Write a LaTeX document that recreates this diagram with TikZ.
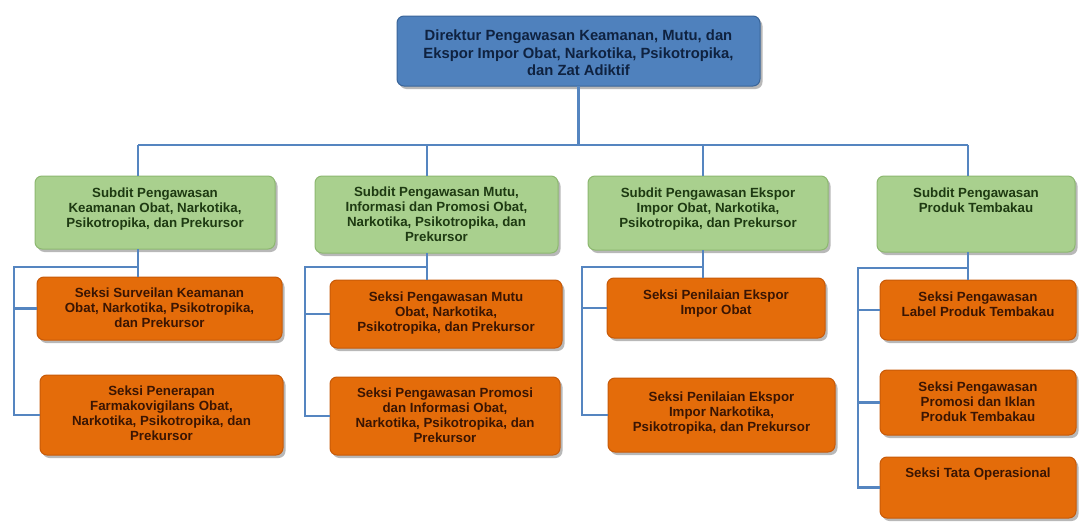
\documentclass[tikz,border=0pt]{standalone}
\usepackage{fontspec}
\setmainfont{Liberation Sans}
\usetikzlibrary{shadows}
\definecolor{topfill}{HTML}{4F81BD}
\definecolor{topdraw}{HTML}{3A6599}
\definecolor{toptext}{HTML}{0F2240}
\definecolor{grnfill}{HTML}{A9D08E}
\definecolor{grndraw}{HTML}{8DB870}
\definecolor{grntext}{HTML}{1E3A12}
\definecolor{orgfill}{HTML}{E46C0A}
\definecolor{orgdraw}{HTML}{C85A08}
\definecolor{orgtext}{HTML}{3A1503}
\definecolor{conn}{HTML}{5585C0}
\tikzset{
  boxbase/.style={rounded corners=7pt, line width=1pt, inner sep=0pt, outer sep=0pt,
    drop shadow={shadow xshift=2.5pt, shadow yshift=-3pt, fill=black!55, opacity=.5}},
  topbox/.style={boxbase, fill=topfill, draw=topdraw},
  gbox/.style={boxbase, fill=grnfill, draw=grndraw},
  obox/.style={boxbase, fill=orgfill, draw=orgdraw},
  toptxt/.style={align=center, inner sep=0pt, text=toptext,
    font=\bfseries\fontsize{14.8}{17.5}\selectfont},
  gtxt/.style={anchor=north, align=center, inner sep=0pt, text=grntext,
    font=\bfseries\fontsize{13.3}{15}\selectfont},
  otxt/.style={anchor=north, align=center, inner sep=0pt, text=orgtext,
    font=\bfseries\fontsize{13.3}{15}\selectfont},
  link/.style={draw=conn, line width=2.8pt}
}
\begin{document}
\begin{tikzpicture}[x=1pt,y=-1pt]
\useasboundingbox (0,0) rectangle (1080,522);
\fill[white] (0,0) rectangle (1080,522);

% top
\node[topbox, minimum width=363pt, minimum height=70pt] (top) at (578.5,51) {};
\node[toptxt] (tt) at ([yshift=-2pt]top.center)
  {Direktur Pengawasan Keamanan, Mutu, dan\\Ekspor Impor Obat, Narkotika, Psikotropika,\\dan Zat Adiktif};

% subdit boxes
\node[gbox, minimum width=240pt, minimum height=73pt] (s1) at (155,212.5) {};
\node[gbox, minimum width=243pt, minimum height=77pt] (s2) at (436.5,214.5) {};
\node[gbox, minimum width=240pt, minimum height=74pt] (s3) at (708,213) {};
\node[gbox, minimum width=198pt, minimum height=76pt] (s4) at (976,214) {};

% seksi boxes
\node[obox, minimum width=245pt, minimum height=63pt] (o1a) at (159.5,308.5) {};
\node[obox, minimum width=243pt, minimum height=80pt] (o1b) at (161.5,415) {};
\node[obox, minimum width=232pt, minimum height=68pt] (o2a) at (446,314) {};
\node[obox, minimum width=230pt, minimum height=78pt] (o2b) at (445,416) {};
\node[obox, minimum width=218pt, minimum height=60pt] (o3a) at (716,308) {};
\node[obox, minimum width=227pt, minimum height=74pt] (o3b) at (721.5,415) {};
\node[obox, minimum width=196pt, minimum height=60pt] (o4a) at (978,310) {};
\node[obox, minimum width=196pt, minimum height=65pt] (o4b) at (978,402.5) {};
\node[obox, minimum width=196pt, minimum height=61pt] (o4c) at (978,487.5) {};

% texts
\node[gtxt] (t1) at ([yshift=-12pt]s1.north) {Subdit Pengawasan\\Keamanan Obat, Narkotika,\\Psikotropika, dan Prekursor};
\node[gtxt] (t2) at ([yshift=-11pt]s2.north) {Subdit Pengawasan Mutu,\\Informasi dan Promosi Obat,\\Narkotika, Psikotropika, dan\\Prekursor};
\node[gtxt] (t3) at ([yshift=-12pt]s3.north) {Subdit Pengawasan Ekspor\\Impor Obat, Narkotika,\\Psikotropika, dan Prekursor};
\node[gtxt] (t4) at ([yshift=-12pt]s4.north) {Subdit Pengawasan\\Produk Tembakau};

\node[otxt] (u1a) at ([yshift=-11pt]o1a.north) {Seksi Surveilan Keamanan\\Obat, Narkotika, Psikotropika,\\dan Prekursor};
\node[otxt] (u1b) at ([yshift=-11pt]o1b.north) {Seksi Penerapan\\Farmakovigilans Obat,\\Narkotika, Psikotropika, dan\\Prekursor};
\node[otxt] (u2a) at ([yshift=-12pt]o2a.north) {Seksi Pengawasan Mutu\\Obat, Narkotika,\\Psikotropika, dan Prekursor};
\node[otxt] (u2b) at ([yshift=-11pt]o2b.north) {Seksi Pengawasan Promosi\\dan Informasi Obat,\\Narkotika, Psikotropika, dan\\Prekursor};
\node[otxt] (u3a) at ([yshift=-12pt]o3a.north) {Seksi Penilaian Ekspor\\Impor Obat};
\node[otxt] (u3b) at ([yshift=-14pt]o3b.north) {Seksi Penilaian Ekspor\\Impor Narkotika,\\Psikotropika, dan Prekursor};
\node[otxt] (u4a) at ([yshift=-12pt]o4a.north) {Seksi Pengawasan\\Label Produk Tembakau};
\node[otxt] (u4b) at ([yshift=-12pt]o4b.north) {Seksi Pengawasan\\Promosi dan Iklan\\Produk Tembakau};
\node[otxt] (u4c) at ([yshift=-11pt]o4c.north) {Seksi Tata Operasional};

% main bus
\coordinate (c1) at (138,145);
\coordinate (c2) at (427,145);
\coordinate (c3) at (703,145);
\coordinate (c4) at (968,145);
\draw[link] (top.south) -- (top.south |- c1);
\draw[link] (c1) -- (c4);
\draw[link] (c1) -- (c1 |- s1.north);
\draw[link] (c2) -- (c2 |- s2.north);
\draw[link] (c3) -- (c3 |- s3.north);
\draw[link] (c4) -- (c4 |- s4.north);

% group buses
\coordinate (L1) at (14,267);
\coordinate (L2) at (305,267);
\coordinate (L3) at (582,267);
\coordinate (L4) at (858,268);

\draw[link] (s1.south -| c1) -- (o1a.north -| c1);
\draw[link] (L1 -| c1) -- (L1) |- (o1b.west);
\draw[link] (L1 |- o1a.west) -- (o1a.west);

\draw[link] (s2.south -| c2) -- (o2a.north -| c2);
\draw[link] (L2 -| c2) -- (L2) |- (o2b.west);
\draw[link] (L2 |- o2a.west) -- (o2a.west);

\draw[link] (s3.south -| c3) -- (o3a.north -| c3);
\draw[link] (L3 -| c3) -- (L3) |- (o3b.west);
\draw[link] (L3 |- o3a.west) -- (o3a.west);

\draw[link] (s4.south -| c4) -- (o4a.north -| c4);
\draw[link] (L4 -| c4) -- (L4) |- (o4c.west);
\draw[link] (L4 |- o4a.west) -- (o4a.west);
\draw[link] (L4 |- o4b.west) -- (o4b.west);
\end{tikzpicture}
\end{document}
